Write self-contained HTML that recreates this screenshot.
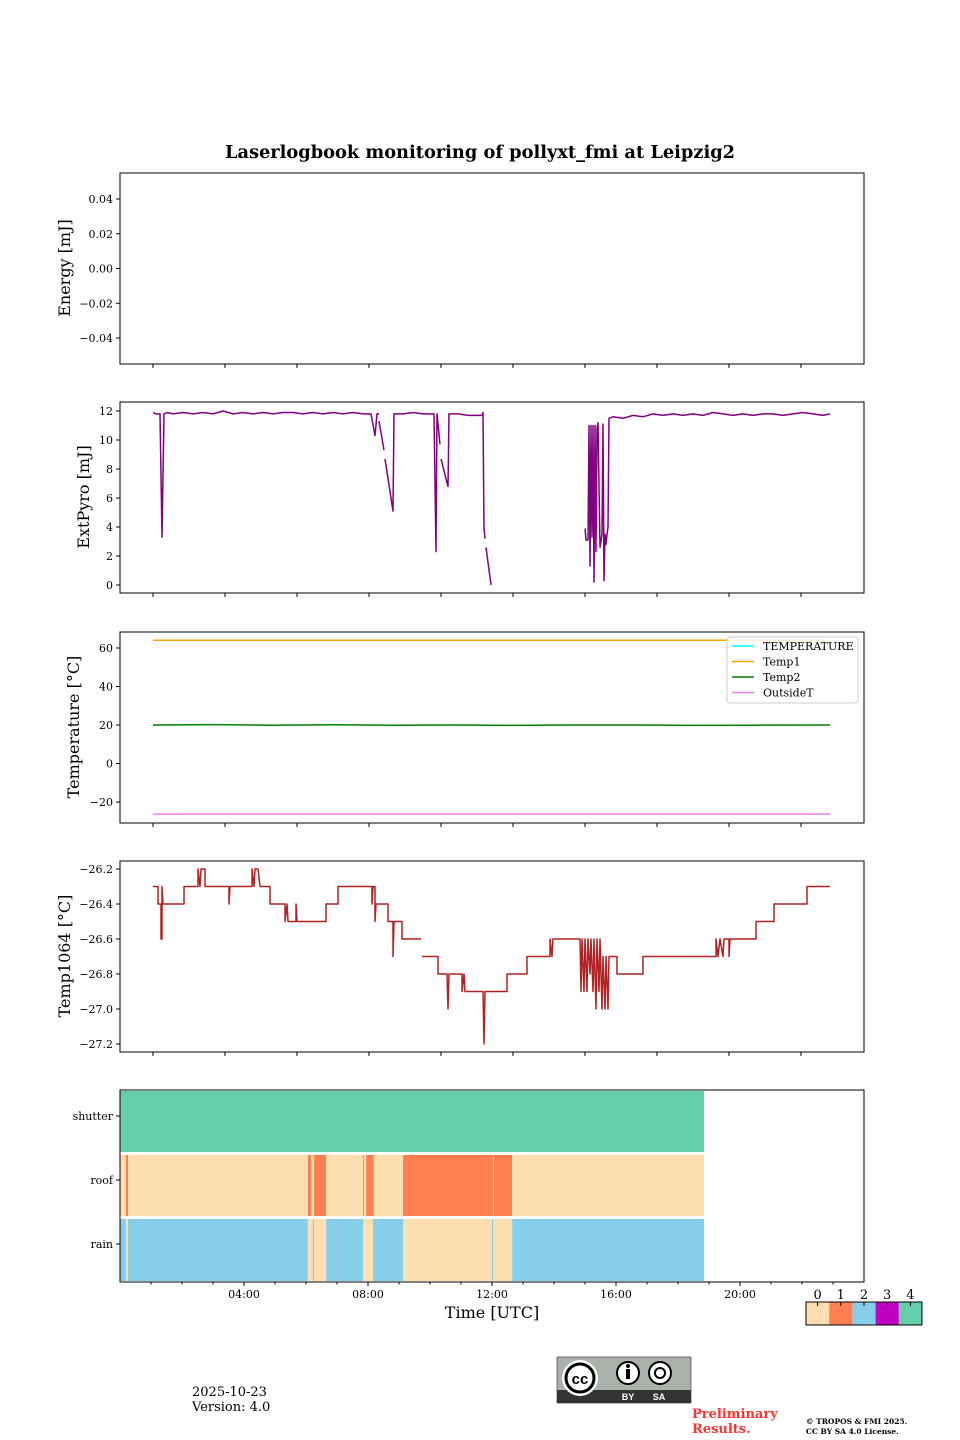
<!DOCTYPE html>
<html><head><meta charset="utf-8"><style>
body{margin:0;background:#fff;}
svg{display:block;font-family:"DejaVu Serif","Liberation Serif",serif;}
</style></head><body>
<svg id="fig" width="960" height="1440" viewBox="0 0 960 1440" xmlns="http://www.w3.org/2000/svg">
<text x="480" y="158" text-anchor="middle" font-size="17.8" font-weight="bold">Laserlogbook monitoring of pollyxt_fmi at Leipzig2</text>
<g id="g"></g>
<text x="192" y="1396" font-size="13">2025-10-23</text>
<text x="192" y="1411" font-size="13">Version: 4.0</text>
<g>
<rect x="557" y="1357" width="134" height="46" fill="#aab2ab" stroke="#000" stroke-width="0.5"/>
<rect x="557" y="1390" width="134" height="13" fill="#333"/>
<circle cx="580" cy="1378" r="18" fill="#fff"/><circle cx="580" cy="1378" r="14" fill="#fff" stroke="#000" stroke-width="3"/>
<text x="580" y="1384" font-size="15" font-weight="bold" text-anchor="middle" font-family="Liberation Sans,sans-serif">cc</text>
<circle cx="628" cy="1373" r="11" fill="#fff" stroke="#000" stroke-width="2"/><rect x="626" y="1369" width="4" height="10" fill="#000"/><circle cx="628" cy="1366" r="2" fill="#000"/>
<circle cx="660" cy="1373" r="11" fill="#fff" stroke="#000" stroke-width="2"/><circle cx="660" cy="1373" r="5" fill="none" stroke="#000" stroke-width="2"/>
<text x="628" y="1400" font-size="9" fill="#fff" text-anchor="middle" font-family="Liberation Sans,sans-serif" font-weight="bold">BY</text>
<text x="659" y="1400" font-size="9" fill="#fff" text-anchor="middle" font-family="Liberation Sans,sans-serif" font-weight="bold">SA</text>
</g>
<text x="692" y="1418" font-size="13" font-weight="bold" fill="#ff3333">Preliminary</text>
<text x="692" y="1433" font-size="13" font-weight="bold" fill="#ff3333">Results.</text>
<text x="806" y="1424" font-size="7.5" font-weight="bold">© TROPOS &amp; FMI 2025.</text>
<text x="806" y="1434" font-size="7.5" font-weight="bold">CC BY SA 4.0 License.</text>
</svg>
<script>
// ---- data ----
const upperTicksT = [0,72,144,216,288,360,432,504,576,648];
const energyTicks = [0.04,0.02,0.00,-0.02,-0.04];
const pyroTicks = [0,2,4,6,8,10,12];
const tempTicks = [-20,0,20,40,60];
const t1064Ticks = [-26.2,-26.4,-26.6,-26.8,-27.0,-27.2];
const hourTicks = [4,8,12,16,20];
const hourTickLabels = ["04:00","08:00","12:00","16:00","20:00"];
const pyroSeries = [[0,11.9],[3,11.8],[7,11.8],[9,3.3],[11,11.8],[14,11.9],[20,11.8],[30,11.9],[40,11.8],[50,11.9],[60,11.8],[70,12.0],[80,11.8],[90,11.9],[100,11.8],[110,11.9],[120,11.8],[130,11.9],[140,11.9],[150,11.8],[160,11.9],[170,11.8],[180,11.9],[190,11.8],[200,11.9],[210,11.8],[218,11.8],[222,10.3],[224,11.8],[226,11.8],null,
[226,11.3],[231,9.3],null,[232,8.7],[240,5.1],[241,11.8],[250,11.8],[260,11.9],[270,11.8],[281,11.8],[283,2.3],[284,11.8],[287,9.7],null,[288,8.7],[295,6.8],[296,11.8],[305,11.8],[315,11.7],[329,11.7],[330,11.9],[331,3.9],[332,3.2],null,[333,2.6],[338,0],null,
[432,3.9],[433,3.1],[435,3.1],[436,11.0],[437,1.3],[438,11.0],[439,3.3],[440,11.0],[441,0.2],[442,11.0],[443,2.3],[444,10.8],[445,11.2],[447,2.6],[449,3.5],[450,11.1],[451,0.3],[452,3.5],[453,2.8],[454,3.5],[455,4.0],[456,11.5],[460,11.6],[470,11.5],[480,11.7],[490,11.6],[500,11.8],[510,11.7],[520,11.8],[530,11.7],[540,11.8],[550,11.7],[560,11.9],[570,11.8],[580,11.7],[590,11.8],[600,11.7],[610,11.8],[620,11.8],[630,11.7],[640,11.8],[650,11.9],[660,11.8],[670,11.7],[677,11.8]];
const temp1Series = [[0,64],[677,64]];
const temp2Series = [[0,20],[60,20.2],[120,19.9],[180,20.1],[240,19.9],[300,20],[360,19.8],[420,20],[480,20],[540,19.8],[600,19.9],[677,20]];
const outsideSeries = [[0,-26.3],[677,-26.3]];
const t1064Series = [[0,-26.3],[5,-26.3],[5,-26.4],[8,-26.4],[8,-26.6],[9,-26.6],[9,-26.3],[10,-26.4],[31,-26.4],[31,-26.3],[45,-26.3],[45,-26.2],[47,-26.3],[48,-26.2],[52,-26.2],[52,-26.3],[76,-26.3],[76,-26.4],[77,-26.3],[99,-26.3],[99,-26.2],[101,-26.3],[102,-26.2],[105,-26.2],[107,-26.3],[117,-26.3],[117,-26.4],[132,-26.4],[132,-26.5],[134,-26.4],[135,-26.5],[143,-26.5],[143,-26.4],[144,-26.5],[173,-26.5],[173,-26.4],[185,-26.4],[185,-26.3],[219,-26.3],[219,-26.4],[220,-26.3],[222,-26.3],[222,-26.5],[223,-26.4],[235,-26.4],[235,-26.5],[240,-26.5],[240,-26.7],[241,-26.5],[249,-26.5],[249,-26.6],[268,-26.6],null,[269,-26.7],[285,-26.7],[285,-26.8],[294,-26.8],[295,-27.0],[296,-26.8],[309,-26.8],[309,-26.9],[311,-26.8],[312,-26.9],[330,-26.9],[331,-27.2],[332,-26.9],[354,-26.9],[354,-26.8],[374,-26.8],[374,-26.7],[397,-26.7],[397,-26.6],[399,-26.7],[400,-26.6],[427,-26.6],[428,-26.9],[429,-26.6],[431,-26.9],[432,-26.6],[434,-26.9],[435,-26.6],[437,-26.8],[438,-26.6],[440,-26.9],[441,-26.6],[443,-27.0],[444,-26.6],[446,-26.9],[447,-26.6],[449,-27.0],[450,-26.7],[452,-27.0],[453,-26.7],[455,-27.0],[456,-26.7],[464,-26.7],[464,-26.8],[490,-26.8],[490,-26.7],[563,-26.7],[563,-26.6],[565,-26.7],[567,-26.6],[570,-26.7],[571,-26.6],[576,-26.6],[576,-26.7],[577,-26.6],[603,-26.6],[603,-26.5],[621,-26.5],[621,-26.4],[654,-26.4],[654,-26.3],[677,-26.3]];
const statusRows = ["shutter","roof","rain"];
const shutterSegs = [[0,18.84,4]];
const roofSegs = [[0,0.19,0],[0.19,0.26,1],[0.26,6.06,0],[6.06,6.16,1],[6.16,6.26,0],[6.26,6.65,1],[6.65,7.84,0],[7.84,7.87,1],[7.87,7.94,0],[7.94,8.19,1],[8.19,9.13,0],[9.13,12.03,1],[12.03,12.06,0],[12.06,12.65,1],[12.65,18.84,0]];
const rainSegs = [[0,0.19,2],[0.19,0.26,0],[0.26,6.06,2],[6.06,6.22,0],[6.22,6.26,2],[6.26,6.65,0],[6.65,7.84,2],[7.84,8.16,0],[8.16,9.13,2],[9.13,12.0,0],[12.0,12.04,2],[12.04,12.65,0],[12.65,18.84,2]];
const statusColors = ["#fddeb0","#ff7f50","#87ceeb","#c000c0","#66cdaa"];
const cbLabels = ["0","1","2","3","4"];

// ---- drawing ----
const NS="http://www.w3.org/2000/svg";
const G=document.getElementById('g');
function mk(tag,attrs,parent){const e=document.createElementNS(NS,tag);for(const k in attrs)e.setAttribute(k,attrs[k]);(parent||G).appendChild(e);return e;}
const X0=120,X1=864;
const xU=t=>153+t;
const xH=h=>120+31*h;
function lin(d0,d1,r0,r1){return v=>r0+(v-d0)*(r1-r0)/(d1-d0);}
function frame(y0,y1,name){
  const r=mk('rect',{x:X0,y:y0,width:X1-X0,height:y1-y0,fill:'none',stroke:'#000','stroke-width':1});
  
  
}
function xticksUpper(y1){
  upperTicksT.forEach(t=>{const l=mk('line',{x1:xU(t),x2:xU(t),y1:y1,y2:y1+4,stroke:'#000'});
    
    });
}
function yticks(ticks,ys,fmt,name){
  const g=mk('g',{});
  
  
  ticks.forEach(v=>{const y=ys(v);mk('line',{x1:X0-4,x2:X0,y1:y,y2:y,stroke:'#000'},g);
    const t=mk('text',{x:X0-7,y:y+4,'font-size':11,'text-anchor':'end'},g);t.textContent=fmt(v);});
}
function ylabel(txt,x,y,name){
  const t=mk('text',{x:x,y:y,'font-size':16,'text-anchor':'middle',transform:`rotate(-90 ${x} ${y})`});
  t.textContent=txt;
  
  
}
function line(series,ys,color,name,w){
  let d='',pen=false;
  series.forEach(p=>{if(!p){pen=false;return;}d+=(pen?'L':'M')+xU(p[0]).toFixed(1)+','+ys(p[1]).toFixed(1);pen=true;});
  const e=mk('path',{d:d,fill:'none',stroke:color,'stroke-width':w||1.5,'stroke-linejoin':'round'});
  
  
}
const mf=v=>(v<0?'\u2212':'')+Math.abs(v).toFixed(2);
const yE=lin(0.04,-0.04,199,338);
frame(173,364,'energy-panel');xticksUpper(364);
yticks(energyTicks,yE,mf,'energy-y-ticks');ylabel('Energy [mJ]',70,268,'energy-y-title');
const yP=lin(0,12,585,411);
frame(402,593,'extpyro-panel');xticksUpper(593);
yticks(pyroTicks,yP,v=>String(v),'extpyro-y-ticks');ylabel('ExtPyro [mJ]',89,497,'extpyro-y-title');
line(pyroSeries,yP,'#800080','extpyro-line',1.5);
const yT=lin(-20,60,802,648);
frame(632,823,'temperature-panel');xticksUpper(823);
yticks(tempTicks,yT,v=>(v<0?'\u2212':'')+Math.abs(v),'temperature-y-ticks');ylabel('Temperature [°C]',79,727,'temperature-y-title');
line(temp1Series,yT,'#ffa500','temp1-line',1.5);
line(temp2Series,yT,'#008000','temp2-line',1.5);
line(outsideSeries,yT,'#ee82ee','outsidet-line',1.5);
const lg=mk('g',{});


mk('rect',{x:727,y:637,width:131,height:66,rx:3,fill:'#fff','fill-opacity':0.85,stroke:'#ccc'},lg);
[['TEMPERATURE','#00ffff'],['Temp1','#ffa500'],['Temp2','#008000'],['OutsideT','#ee82ee']].forEach((it,i)=>{
  const y=646+i*15.5;const r=mk('g',{},lg);
  
  
  mk('line',{x1:732,x2:754,y1:y,y2:y,stroke:it[1],'stroke-width':1.5},r);
  const t=mk('text',{x:763,y:y+4,'font-size':11},r);t.textContent=it[0];});
const y4=lin(-26.2,-27.2,869,1044);
frame(861,1052,'temp1064-panel');xticksUpper(1052);
yticks(t1064Ticks,y4,v=>'\u2212'+Math.abs(v).toFixed(1),'temp1064-y-ticks');ylabel('Temp1064 [°C]',70,956,'temp1064-y-title');
line(t1064Series,y4,'#b22222','temp1064-line',1.5);
const rowY=[[1091,1152],[1155,1216],[1219,1281]];
const rowLabelY=[1116,1180,1244];
[shutterSegs,roofSegs,rainSegs].forEach((segs,ri)=>{
  segs.forEach(s=>{const r=mk('rect',{x:xH(s[0]),y:rowY[ri][0],width:xH(s[1])-xH(s[0]),height:rowY[ri][1]-rowY[ri][0],fill:statusColors[s[2]]});
    
    });
  const yc=rowLabelY[ri];
  mk('line',{x1:X0-4,x2:X0,y1:yc,y2:yc,stroke:'#000'});
  const t=mk('text',{x:X0-7,y:yc+4,'font-size':11,'text-anchor':'end'});t.textContent=statusRows[ri];
  
  
});
frame(1090,1282,'status-panel');
for(let h=1;h<24;h++){mk('line',{x1:xH(h),x2:xH(h),y1:1282,y2:1284.5,stroke:'#000'});}
hourTicks.forEach((h,i)=>{mk('line',{x1:xH(h),x2:xH(h),y1:1282,y2:1286,stroke:'#000'});
  const t=mk('text',{x:xH(h),y:1298,'font-size':11,'text-anchor':'middle'});t.textContent=hourTickLabels[i];
  
  });
const xl=mk('text',{x:492,y:1318,'font-size':16,'text-anchor':'middle'});xl.textContent='Time [UTC]';


const cb=mk('g',{});


statusColors.forEach((c,i)=>{const x=806+i*23.2;mk('rect',{x:x,y:1302,width:23.2,height:23,fill:c},cb);
  mk('line',{x1:x+11.6,x2:x+11.6,y1:1302,y2:1306,stroke:'#000'},cb);
  const t=mk('text',{x:x+11.6,y:1299,'font-size':13,'text-anchor':'middle'},cb);t.textContent=cbLabels[i];});
mk('rect',{x:806,y:1302,width:116,height:23,fill:'none',stroke:'#000'},cb);
</script>
</body></html>
